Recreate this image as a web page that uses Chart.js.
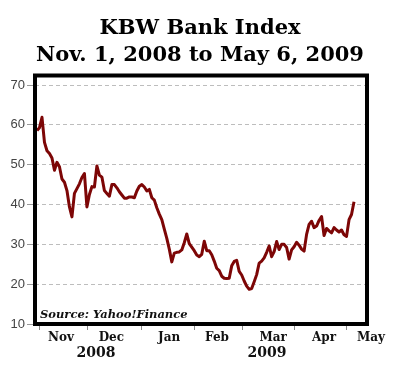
<!DOCTYPE html>
<html>
<head>
<meta charset="utf-8">
<script src="https://cdn.jsdelivr.net/npm/chart.js@4.4.1/dist/chart.umd.min.js"></script>
<style>
  html, body { margin: 0; padding: 0; background: #fff; }
  #wrap { width: 400px; height: 378px; }
</style>
</head>
<body>
<div id="wrap"><canvas id="bankChart" width="400" height="378"></canvas></div>
<script>
// trading days, Oct 31 2008 .. May 6 2009
const tradeDates = [
  '10/31',
  '11/03','11/04','11/05','11/06','11/07','11/10','11/11','11/12','11/13','11/14',
  '11/17','11/18','11/19','11/20','11/21','11/24','11/25','11/26','11/28',
  '12/01','12/02','12/03','12/04','12/05','12/08','12/09','12/10','12/11','12/12',
  '12/15','12/16','12/17','12/18','12/19','12/22','12/23','12/24','12/26','12/29','12/30','12/31',
  '01/02','01/05','01/06','01/07','01/08','01/09','01/12','01/13','01/14','01/15',
  '01/16','01/20','01/21','01/22','01/23','01/26','01/27','01/28','01/29','01/30',
  '02/02','02/03','02/04','02/05','02/06','02/09','02/10','02/11','02/12','02/13',
  '02/17','02/18','02/19','02/20','02/23','02/24','02/25','02/26','02/27',
  '03/02','03/03','03/04','03/05','03/06','03/09','03/10','03/11','03/12','03/13',
  '03/16','03/17','03/18','03/19','03/20','03/23','03/24','03/25','03/26','03/27','03/30','03/31',
  '04/01','04/02','04/03','04/06','04/07','04/08','04/09','04/13','04/14','04/15',
  '04/16','04/17','04/20','04/21','04/22','04/23','04/24','04/27','04/28','04/29','04/30',
  '05/01','05/04','05/05','05/06'
];

// index closes
const closes = [
  58.6,
  59.3, 61.9, 55.6, 53.5, 52.8, 51.7, 48.6, 50.6, 49.5, 46.4,
  45.6, 43.5, 39.4, 36.9, 42.8, 44.0, 45.2, 46.8, 47.8,
  39.4, 42.5, 44.5, 44.4, 49.7, 47.4, 46.9, 43.5, 42.8, 42.1,
  45.0, 45.0, 44.2, 43.2, 42.4, 41.6, 41.6, 41.9, 41.9, 41.7, 43.4, 44.6,
  45.0, 44.4, 43.4, 43.8, 41.7, 41.1, 39.2, 37.6, 36.2, 33.8,
  31.5, 28.8, 25.6, 27.8, 28.0, 28.1, 28.6, 30.4, 32.6, 30.2,
  29.3, 28.4, 27.3, 26.9, 27.5, 30.8, 28.4, 28.4, 27.4, 25.8,
  24.0, 23.4, 22.0, 21.5, 21.4, 21.5, 24.6, 25.7, 26.0,
  23.2, 22.3, 20.8, 19.5, 18.7, 18.9, 20.6, 22.4, 25.3, 25.8,
  26.6, 28.0, 29.6, 26.9, 28.2, 30.7, 28.7, 30.0, 30.0, 29.2, 26.3, 28.6,
  29.4, 30.5, 29.8, 28.8, 28.3, 32.5, 35.0, 35.8, 34.2, 34.6,
  36.0, 37.0, 32.2, 34.0, 33.4, 32.9, 34.2, 33.6, 33.1, 33.6, 32.4,
  32.0, 36.2, 37.5, 40.7
];

const titleLines = ['KBW Bank Index', 'Nov. 1, 2008 to May 6, 2009'];
const sourceNote = 'Source: Yahoo!Finance';

const yTicks = [10, 20, 30, 40, 50, 60, 70];

// x axis is counted in trading days from Oct 31
const monthMarks = [1.0, 20.3, 41.9, 63.0, 82.4, 103.1, 124.1];
const monthNames = ['Nov', 'Dec', 'Jan', 'Feb', 'Mar', 'Apr', 'May'];
const monthLabelAt = [9.6, 29.8, 52.9, 72.1, 94.6, 115.0, 133.8];
const yearNames = ['2008', '2009'];
const yearLabelAt = [23.6, 92.1];

const serif = "'DejaVu Serif', Georgia, serif";

const xTicks = [];
monthMarks.forEach(v => xTicks.push({ value: v, label: '', kind: 'mark' }));
monthNames.forEach((m, i) => xTicks.push({ value: monthLabelAt[i], label: m, kind: 'month' }));
yearNames.forEach((y, i) => xTicks.push({ value: yearLabelAt[i], label: ['', y], kind: 'year' }));

const points = closes.map((v, i) => ({ x: i, y: v }));

// thick black frame + source note
const framePlugin = {
  id: 'frame',
  afterDraw(chart) {
    const { ctx, chartArea: a } = chart;
    ctx.save();
    ctx.font = "italic bold 11.5px " + serif;
    ctx.fillStyle = '#111';
    ctx.textBaseline = 'middle';
    ctx.textAlign = 'left';
    ctx.fillText(sourceNote, a.left + 5, a.bottom - 9);
    ctx.lineWidth = 4;
    ctx.strokeStyle = '#000';
    ctx.strokeRect(a.left, a.top, a.right - a.left, a.bottom - a.top);
    ctx.restore();
  }
};

new Chart(document.getElementById('bankChart'), {
  type: 'line',
  data: {
    datasets: [{
      label: 'KBW Bank Index',
      data: points,
      borderColor: '#7d0606',
      borderWidth: 3,
      pointRadius: 0,
      tension: 0,
      borderJoinStyle: 'round',
      fill: false
    }]
  },
  options: {
    responsive: false,
    animation: false,
    layout: { padding: 0 },
    plugins: {
      legend: { display: false },
      tooltip: { enabled: false },
      title: {
        display: true,
        text: titleLines,
        color: '#000',
        font: { family: serif, size: 21, weight: 'bold', lineHeight: '27px' },
        padding: { top: 15, bottom: 6.5 }
      }
    },
    scales: {
      x: {
        type: 'linear',
        min: -0.8,
        max: 132.2,
        afterBuildTicks: s => { s.ticks = xTicks.map(t => ({ value: t.value })); },
        afterFit: s => { s.height = 54; },
        grid: {
          drawOnChartArea: false,
          tickLength: 6,
          tickColor: ctx => (xTicks[ctx.index] && xTicks[ctx.index].kind === 'mark') ? '#8a8a8a' : 'rgba(0,0,0,0)'
        },
        border: { display: false },
        ticks: {
          autoSkip: false,
          maxRotation: 0,
          minRotation: 0,
          padding: 1,
          color: '#111',
          callback: (val, i) => xTicks[i] ? xTicks[i].label : '',
          font: ctx => (xTicks[ctx.index] && xTicks[ctx.index].kind === 'year')
            ? { family: serif, size: 14, weight: 'bold', lineHeight: '15px' }
            : { family: serif, size: 12, weight: 'bold', lineHeight: '14px' }
        }
      },
      y: {
        type: 'linear',
        min: 10,
        max: 72.4,
        afterBuildTicks: s => { s.ticks = yTicks.map(v => ({ value: v })); },
        afterFit: s => { s.width = 35; },
        grid: { color: '#bdbdbd', lineWidth: 1, tickLength: 8, tickColor: '#999' },
        border: { display: false, dash: [4, 3] },
        ticks: {
          padding: 2,
          color: '#444',
          font: { family: "'Liberation Sans', Arial, sans-serif", size: 13 }
        }
      },
      yRight: {
        type: 'linear',
        axis: 'y',
        position: 'right',
        grid: { display: false },
        border: { display: false },
        ticks: { display: false },
        afterFit: s => { s.width = 33; }
      }
    }
  },
  plugins: [framePlugin]
});
</script>
</body>
</html>
